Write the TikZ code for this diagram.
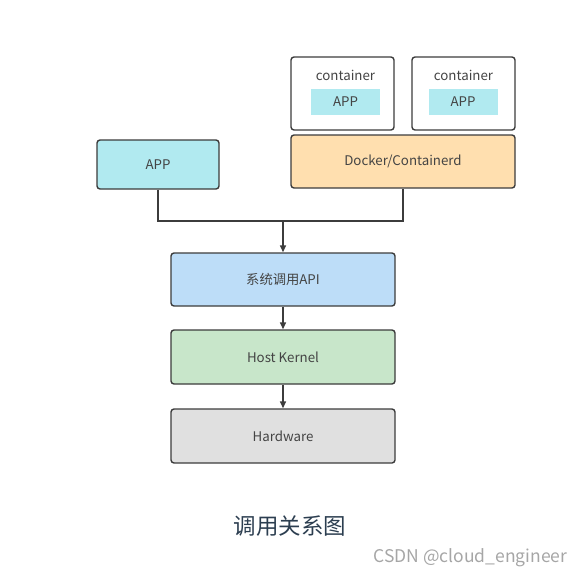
\documentclass[tikz,border=0pt]{standalone}
\usepackage{fontspec}
\setmainfont{Noto Sans CJK SC}
\usepackage{tikz}
\usetikzlibrary{arrows.meta}
\definecolor{appcol}{HTML}{B1EAF0}
\definecolor{dockcol}{HTML}{FFDFAF}
\definecolor{apicol}{HTML}{BDDDF8}
\definecolor{kercol}{HTML}{C8E6CA}
\definecolor{hwcol}{HTML}{E0E0E0}
\definecolor{edgecol}{HTML}{3C3C3C}
\definecolor{txtcol}{HTML}{444444}
\definecolor{titlecol}{HTML}{2C3E50}

\begin{document}
\begin{tikzpicture}[x=1pt,y=-1pt,
  box/.style={draw=edgecol,line width=1.4pt,rounded corners=3pt,text=txtcol,
    font=\fontsize{13.3}{15}\selectfont},
  inbox/.style={fill=appcol,text=txtcol,minimum width=69pt,minimum height=26pt,
    inner sep=0pt,font=\fontsize{13.3}{15}\selectfont},
  link/.style={draw=edgecol,line width=1.4pt},
  arr/.style={link,-{Triangle[length=7pt,width=6pt]}}]
\useasboundingbox (0,0) rectangle (586,578);
\node [box,fill=white,minimum width=103pt,minimum height=73pt] (c1) at (342.5,93.5) {};
\node [box,fill=white,minimum width=103pt,minimum height=73pt] (c2) at (463.5,93.5) {};
\node [text=txtcol,font=\fontsize{13.3}{15}\selectfont] (c1t) at (345.5,75) {container};
\node [text=txtcol,font=\fontsize{13.3}{15}\selectfont] (c2t) at (463.5,75) {container};
\node [inbox] (a1) at (345.5,102) {APP};
\node [inbox] (a2) at (463,102) {APP};
\node [box,fill=dockcol,minimum width=224pt,minimum height=53pt] (dock) at (403,161.5) {Docker/Containerd};
\node [box,fill=appcol,minimum width=122pt,minimum height=49pt] (app) at (158,164.5) {APP};
\node [box,fill=apicol,minimum width=224pt,minimum height=53pt] (api) at (283,279.5) {系统调用API};
\node [box,fill=kercol,minimum width=224pt,minimum height=54pt] (ker) at (283,357) {Host Kernel};
\node [box,fill=hwcol,minimum width=224pt,minimum height=54pt] (hw) at (283,436) {Hardware};
\coordinate (j) at (283,221);
% join of the two upper parts
\draw [link] (app.south) |- (j) -| (dock.south);
\draw [arr] (j) -- (api.north);
\draw [arr] (api) -- (ker);
\draw [arr] (ker) -- (hw);
\node [text=titlecol,font=\fontsize{22.5}{26}\selectfont] (title) at (290,526) {调用关系图};
\node [text=gray!70,font=\fontsize{17.5}{20}\selectfont,anchor=east] (mark) at (571,558) {CSDN @cloud\_engineer};
\end{tikzpicture}
\end{document}
